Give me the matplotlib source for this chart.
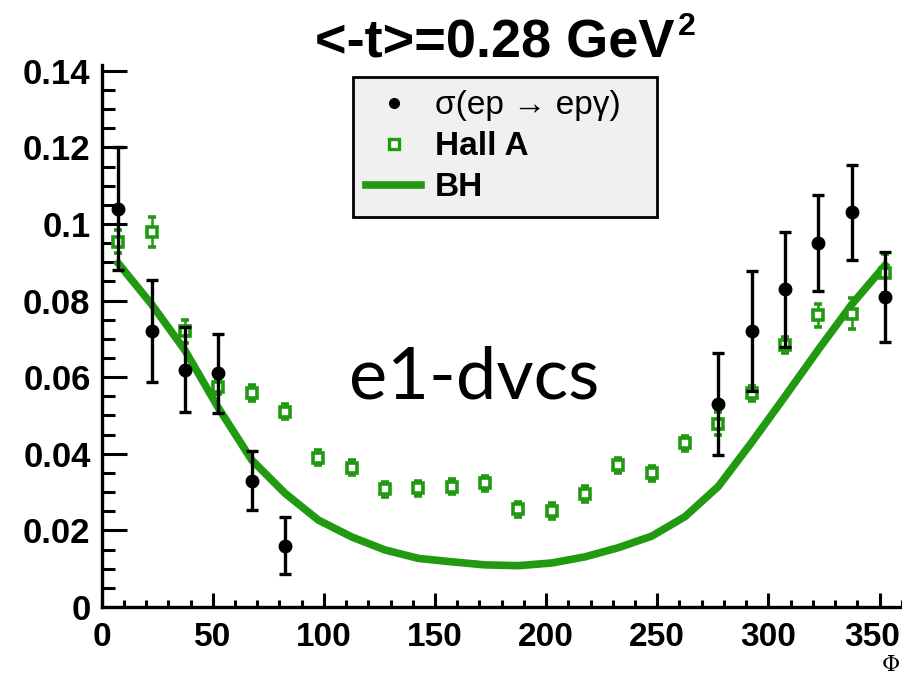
import matplotlib.pyplot as plt
import numpy as np
from matplotlib.lines import Line2D
from matplotlib.ticker import MultipleLocator, FormatStrFormatter
from matplotlib.transforms import ScaledTranslation

# phi bin centres (deg)
phi = np.arange(7.5, 360, 15)

# CLAS e1-dvcs cross section, only the bins that were measured
phi_clas = [7.5, 22.5, 37.5, 52.5, 67.5, 82.5,
            277.5, 292.5, 307.5, 322.5, 337.5, 352.5]
sig_clas = [0.104, 0.072, 0.062, 0.061, 0.033, 0.016,
            0.053, 0.072, 0.083, 0.095, 0.103, 0.081]
err_clas = [0.016, 0.0133, 0.011, 0.0103, 0.0077, 0.0074,
            0.0133, 0.0157, 0.015, 0.0125, 0.0125, 0.0117]

# Hall A points
sig_halla = [0.0953, 0.0979, 0.0720, 0.0575, 0.0559, 0.0510,
             0.0390, 0.0364, 0.0307, 0.0310, 0.0314, 0.0323,
             0.0255, 0.0251, 0.0295, 0.0370, 0.0349, 0.0427,
             0.0479, 0.0558, 0.0684, 0.0762, 0.0766, 0.0871]
err_halla = [0.003, 0.004, 0.003, 0.002, 0.002, 0.002,
             0.002, 0.002, 0.002, 0.002, 0.002, 0.002,
             0.002, 0.002, 0.002, 0.002, 0.002, 0.002,
             0.003, 0.002, 0.002, 0.003, 0.004, 0.005]

# Bethe-Heitler calculation
sig_bh = [0.0897, 0.0790, 0.0670, 0.0520, 0.0384, 0.0297,
          0.0227, 0.0183, 0.0149, 0.0127, 0.0118, 0.0110,
          0.0108, 0.0115, 0.0131, 0.0155, 0.0185, 0.0236,
          0.0315, 0.0430, 0.0550, 0.0672, 0.0790, 0.0892]

xticks = [0, 50, 100, 150, 200, 250, 300, 350]

green = '#219a12'
bold = {'family': 'Liberation Sans', 'weight': 'bold'}

fig = plt.figure(figsize=(9.02, 6.75), dpi=100)
ax = fig.add_axes([0.1127, 0.1007, 0.887, 0.803])

ax.plot(phi, sig_bh, '-', color=green, lw=5.5, zorder=2)
ax.errorbar(phi, sig_halla, yerr=err_halla, fmt='s', color=green, mfc='white',
            mec=green, ms=7.5, mew=2.6, elinewidth=1.8, capsize=3, capthick=1.8,
            zorder=3)
ax.errorbar(phi_clas, sig_clas, yerr=err_clas, fmt='o', color='black', ms=9,
            elinewidth=2.4, capsize=4.5, capthick=2.4, zorder=4)

ax.set_xlim(0, 360)
ax.set_ylim(0, 0.1415)

for s in ['top', 'right']:
    ax.spines[s].set_visible(False)
for s in ['left', 'bottom']:
    ax.spines[s].set_linewidth(2.4)

ax.set_xticks(xticks)
ax.xaxis.set_minor_locator(MultipleLocator(10))
ax.yaxis.set_major_locator(MultipleLocator(0.02))
ax.yaxis.set_minor_locator(MultipleLocator(0.005))
ax.yaxis.set_major_formatter(FormatStrFormatter('%g'))
ax.tick_params(axis='y', which='major', direction='in', length=18, width=2.2, pad=8)
ax.tick_params(axis='y', which='minor', direction='in', length=9, width=2.2)
ax.tick_params(axis='x', which='major', direction='in', length=10, width=2.2, pad=11)
ax.tick_params(axis='x', which='minor', direction='in', length=5, width=2.2)
for lab in ax.get_xticklabels() + ax.get_yticklabels():
    lab.set_fontfamily('Liberation Sans')
    lab.set_fontweight('bold')
    lab.set_fontsize(25)
for lab in ax.get_xticklabels():
    lab.set_fontsize(24)
# keep the last phi label inside the canvas
last = ax.get_xticklabels()[-1]
last.set_transform(last.get_transform() +
                   ScaledTranslation(-0.07, 0, fig.dpi_scale_trans))

ax.set_xlabel('Φ', family='DejaVu Serif', fontsize=16, ha='right')
ax.xaxis.set_label_coords(0.998, -0.086)

fig.text(0.748, 0.935, '<-t>=0.28 GeV', ha='right', va='center',
         fontsize=39, **bold)
fig.text(0.751, 0.96, '2', ha='left', va='center', fontsize=23, **bold)

ax.text(0.465, 0.4225, 'e1-dvcs', transform=ax.transAxes, ha='center',
        va='center', family='Lato', fontsize=52)

# legend entries without the error bars
handles = [
    Line2D([], [], ls='none', marker='o', color='black', ms=7),
    Line2D([], [], ls='none', marker='s', mfc='white', mec=green, ms=7, mew=2.4),
    Line2D([], [], color=green, lw=5.5),
]
labels = ['σ(ep → epγ)', 'Hall A', 'BH']
leg = ax.legend(handles, labels, loc='upper left', mode='expand',
                bbox_to_anchor=(0.314, 0.978, 0.38, 0.0),
                fancybox=False, framealpha=1, facecolor='#f0f0f0',
                edgecolor='black',
                prop={'family': ['Liberation Sans', 'DejaVu Sans'],
                      'weight': 'bold', 'size': 24},
                handlelength=1.65, handletextpad=0.4, labelspacing=0.3,
                borderpad=0.4, borderaxespad=0)
leg.get_frame().set_linewidth(2)
leg.get_texts()[0].set_fontweight('normal')

fig.savefig('out.png', dpi=100)
